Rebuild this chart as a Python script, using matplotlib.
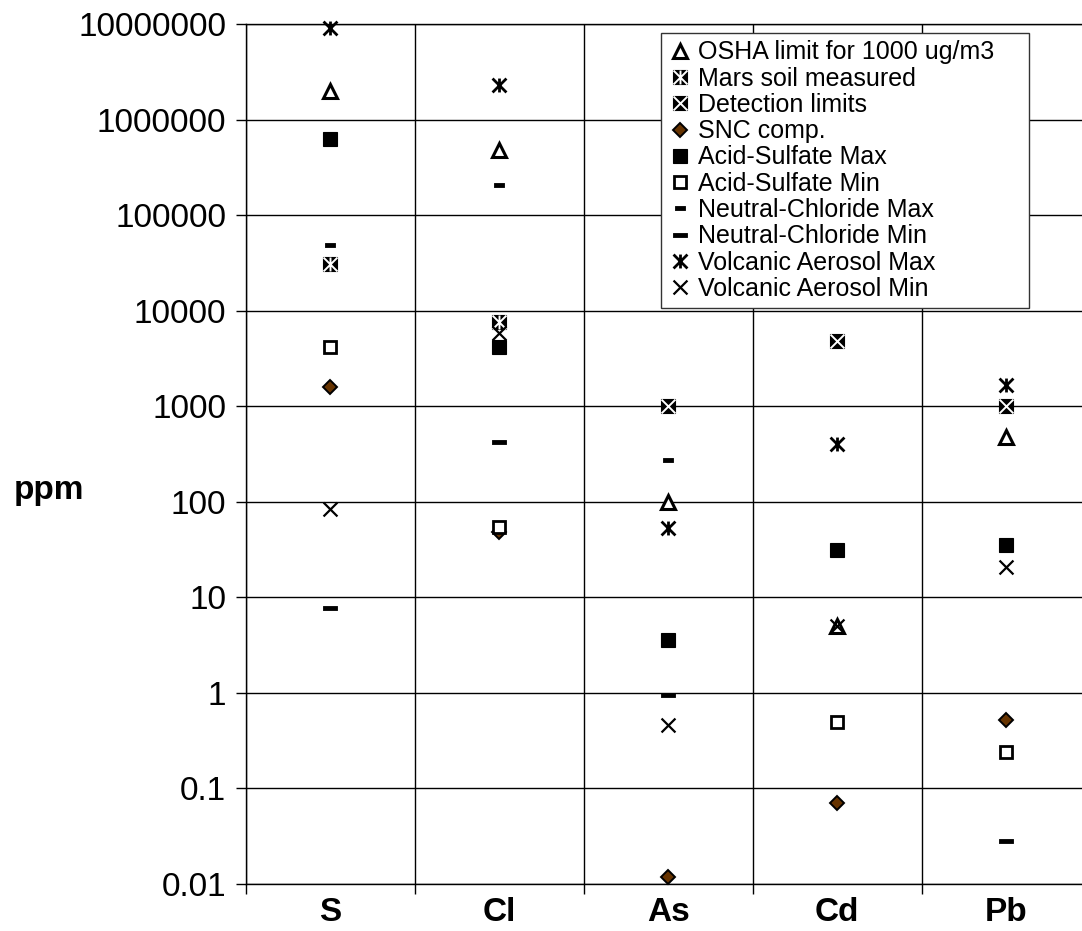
import numpy as np
import matplotlib
matplotlib.use("Agg")
import matplotlib.pyplot as plt
from matplotlib.path import Path
from matplotlib.legend_handler import HandlerTuple
from matplotlib.lines import Line2D
from matplotlib.ticker import NullLocator

plt.rcParams['font.family'] = ['Liberation Sans', 'DejaVu Sans']

# ---------------- data ----------------
elements = ["S", "Cl", "As", "Cd", "Pb"]
nan = np.nan
osha_limit = [2.0e6, 4.8e5, 100, 5.0, 480]
mars_soil = [3.1e4, 7600, nan, nan, nan]
detection_limits = [nan, nan, 1000, 4800, 1000]
snc_comp = [1580, 48, 0.0117, 0.07, 0.515]
acid_sulfate_max = [6.25e5, 4200, 3.55, 31, 35]
acid_sulfate_min = [4150, 54, nan, 0.49, 0.238]
neutral_chloride_max = [4.85e4, 2.06e5, 272, nan, nan]
neutral_chloride_min = [7.7, 420, 0.94, nan, 0.0285]
volcanic_max = [9.0e6, 2.3e6, 53, 400, 1660]
volcanic_min = [85, 5800, 0.46, 5.0, 20.6]

ytick_values = [0.01, 0.1, 1, 10, 100, 1000, 10000, 100000, 1000000, 10000000]
ytick_labels = ["0.01", "0.1", "1", "10", "100", "1000", "10000",
                "100000", "1000000", "10000000"]

# ---------------- markers ----------------
M, L = Path.MOVETO, Path.LINETO
star_path = Path([(-1, -1), (1, 1), (-1, 1), (1, -1), (0, -1), (0, 1)],
                 [M, L, M, L, M, L])
x_path = Path([(-1, -1), (1, 1), (-1, 1), (1, -1)], [M, L, M, L])
dash_short = [(-1, -0.45), (1, -0.45), (1, 0.45), (-1, 0.45), (-1, -0.45)]
dash_long = [(-1, -0.34), (1, -0.34), (1, 0.34), (-1, 0.34), (-1, -0.34)]

W, H = 1082, 931
fig = plt.figure(figsize=(W / 100, H / 100), dpi=100)
ax = fig.add_axes([245.7 / W, 1 - 884 / H, 845 / W, (884 - 24) / H])

x = np.arange(len(elements))

styles = {}
styles['osha'] = [dict(marker='^', ms=9.5, mfc='white', mec='black', mew=2.2)]
styles['mars'] = [dict(marker='s', ms=10, mfc='black', mec='black', mew=0.8),
                  dict(marker=star_path, ms=10, mfc='none', mec='white', mew=1.4)]
styles['det'] = [dict(marker='s', ms=10, mfc='black', mec='black', mew=0.8),
                 dict(marker=x_path, ms=10, mfc='none', mec='white', mew=1.4)]
styles['snc'] = [dict(marker='D', ms=7.5, mfc='#663300', mec='black', mew=1.4)]
styles['asmax'] = [dict(marker='s', ms=10.5, mfc='black', mec='black', mew=0.8)]
styles['asmin'] = [dict(marker='s', ms=8.5, mfc='white', mec='black', mew=2.0)]
styles['ncmax'] = [dict(marker=dash_short, ms=7.2, mfc='black', mec='black', mew=0.6)]
styles['ncmin'] = [dict(marker=dash_long, ms=10.5, mfc='black', mec='black', mew=0.6)]
styles['vmax'] = [dict(marker=star_path, ms=10, mfc='none', mec='black', mew=2.0)]
styles['vmin'] = [dict(marker=x_path, ms=10, mfc='none', mec='black', mew=1.6)]

series = [
    ('osha', osha_limit, "OSHA limit for 1000 ug/m3"),
    ('mars', mars_soil, "Mars soil measured"),
    ('det', detection_limits, "Detection limits"),
    ('snc', snc_comp, "SNC comp."),
    ('asmax', acid_sulfate_max, "Acid-Sulfate Max"),
    ('asmin', acid_sulfate_min, "Acid-Sulfate Min"),
    ('ncmax', neutral_chloride_max, "Neutral-Chloride Max"),
    ('ncmin', neutral_chloride_min, "Neutral-Chloride Min"),
    ('vmax', volcanic_max, "Volcanic Aerosol Max"),
    ('vmin', volcanic_min, "Volcanic Aerosol Min"),
]

handles, labels = [], []
z = 5
for key, vals, lab in series:
    parts = []
    for st in styles[key]:
        ax.plot(x, vals, linestyle='none', zorder=z, clip_on=False, **st)
        z += 0.1
        parts.append(Line2D([], [], linestyle='none', **st))
    handles.append(tuple(parts))
    labels.append(lab)

# ---------------- axes ----------------
ax.set_yscale('log')
ax.set_ylim(0.01, 1e7)
ax.set_xlim(-0.5, 4.5)
ax.set_yticks(ytick_values)
ax.set_yticklabels(ytick_labels, fontsize=24)
ax.yaxis.set_minor_locator(NullLocator())
ax.tick_params(axis='y', which='major', length=7, width=1, pad=7, direction='out')

ax.set_xticks(x)
ax.set_xticklabels(elements, fontsize=24, fontweight='bold')
ax.tick_params(axis='x', which='major', length=0, pad=9.5)
ax.set_xticks(np.arange(-0.5, 5.0, 1.0), minor=True)
ax.tick_params(axis='x', which='minor', length=7, width=1, direction='out')

ax.grid(True, axis='y', which='major', color='black', linewidth=1.0)
ax.grid(True, axis='x', which='minor', color='black', linewidth=1.0)
ax.set_axisbelow(True)
for s in ['left', 'bottom', 'top', 'right']:
    ax.spines[s].set_color('black')
    ax.spines[s].set_linewidth(1.0)

fig.text(49 / W, 1 - 490 / H, "ppm", fontsize=24, fontweight='bold',
         ha='center', va='center')

leg_x0, leg_x1, leg_top = 661, 1029, 33
leg = fig.legend(handles, labels, loc='upper left', mode='expand',
                 bbox_to_anchor=(leg_x0 / W, 1 - leg_top / H,
                                 (leg_x1 - leg_x0) / W, 0.0),
                 handler_map={tuple: HandlerTuple(ndivide=1, pad=0)},
                 fontsize=18, frameon=True, fancybox=False, framealpha=1,
                 edgecolor='#333333', borderaxespad=0, borderpad=0.3,
                 labelspacing=0.09, handlelength=0.9, handletextpad=0.3)
leg.get_frame().set_linewidth(1.0)

fig.savefig("out.png", dpi=100)
